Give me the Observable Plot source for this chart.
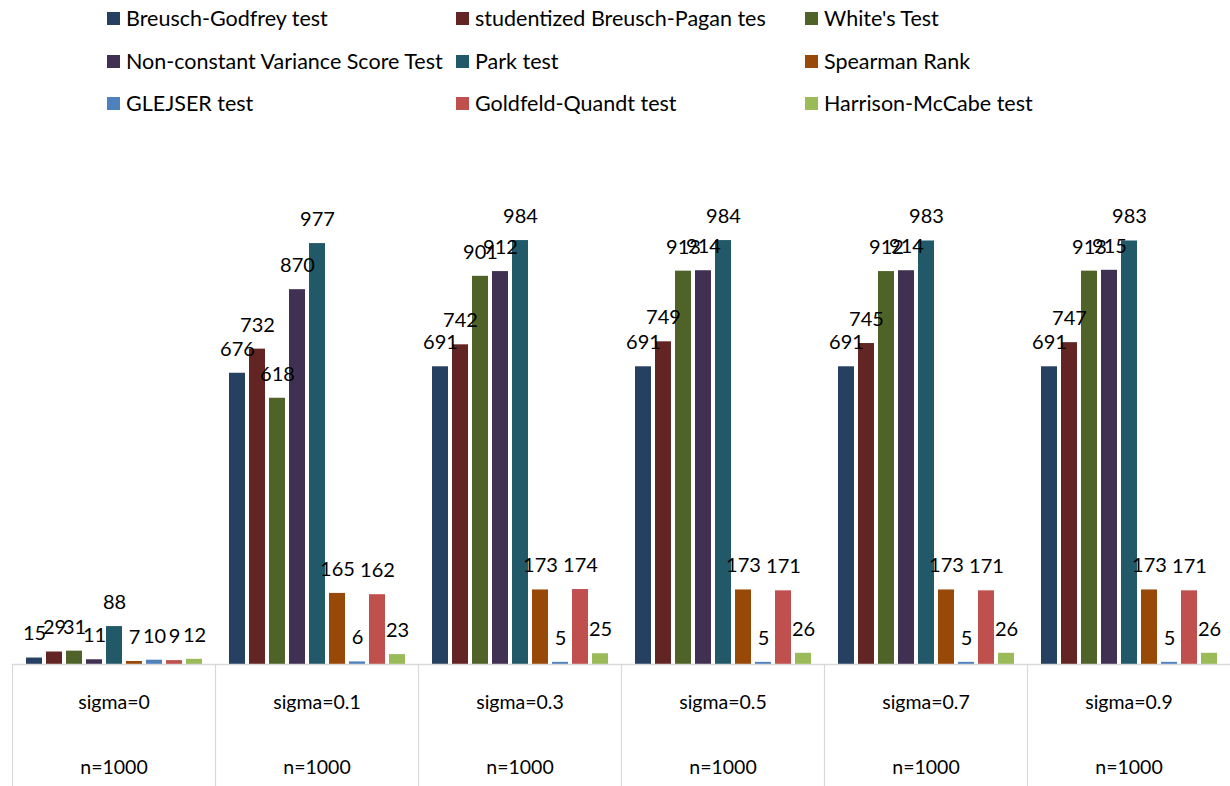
<!DOCTYPE html>
<html>
<head>
<meta charset="utf-8">
<script src="https://cdn.jsdelivr.net/npm/d3@7"></script>
<script src="https://cdn.jsdelivr.net/npm/@observablehq/plot@0.6"></script>
<style>
  html, body { margin: 0; padding: 0; background: #fff; }
  #wrap { position: relative; width: 1230px; height: 786px; font-family: Lato, "Open Sans", sans-serif; }
  #legend { position: absolute; left: 0; top: 0; width: 1230px; height: 130px; }
  .item { position: absolute; display: flex; align-items: center; font-size: 21.5px; color: #000; white-space: nowrap; }
  .sw { width: 13px; height: 13px; margin-right: 6px; }
  #chart { position: absolute; left: 0; top: 0; }
</style>
</head>
<body>
<div id="wrap">
  <div id="chart"></div>
  <div id="legend"></div>
</div>
<script>
// Heteroskedasticity tests: rejections out of n=1000 replications
const groups = ["sigma=0", "sigma=0.1", "sigma=0.3", "sigma=0.5", "sigma=0.7", "sigma=0.9"];
const sampleLabel = "n=1000";
const tests = [
  "Breusch-Godfrey test",
  "studentized Breusch-Pagan tes",
  "White's Test",
  "Non-constant Variance Score Test",
  "Park test",
  "Spearman Rank",
  "GLEJSER test",
  "Goldfeld-Quandt test",
  "Harrison-McCabe test"
];
const colors = ["#254061", "#632523", "#4f6228", "#403152", "#215968", "#984807", "#4f81bd", "#c0504d", "#9bbb59"];

// one array per test, values in group order
const breuschGodfrey  = [15, 676, 691, 691, 691, 691];
const studentizedBP   = [29, 732, 742, 749, 745, 747];
const whiteTest       = [31, 618, 901, 913, 912, 913];
const ncvScore        = [11, 870, 912, 914, 914, 915];
const parkTest        = [88, 977, 984, 984, 983, 983];
const spearmanRank    = [7, 165, 173, 173, 173, 173];
const glejser         = [10, 6, 5, 5, 5, 5];
const goldfeldQuandt  = [9, 162, 174, 171, 171, 171];
const harrisonMcCabe  = [12, 23, 25, 26, 26, 26];

const seriesValues = [breuschGodfrey, studentizedBP, whiteTest, ncvScore, parkTest,
                      spearmanRank, glejser, goldfeldQuandt, harrisonMcCabe];

const rows = [];
groups.forEach((g, gi) => {
  tests.forEach((t, ti) => rows.push({group: g, test: t, value: seriesValues[ti][gi]}));
});
const groupRows = groups.map(g => ({group: g}));

const chart = Plot.plot({
  width: 1230,
  height: 786,
  marginLeft: 11,
  marginRight: 0,
  marginTop: 147,
  marginBottom: 122,
  style: {fontFamily: "Lato, 'Open Sans', sans-serif", background: "transparent"},
  fx: {domain: groups, padding: 0, axis: null},
  x: {domain: tests, paddingInner: 0.21, paddingOuter: 0.6, axis: null},
  y: {domain: [0, 1200], axis: null},
  color: {domain: tests, range: colors},
  marks: [
    Plot.frame({anchor: "left", stroke: "#d9d9d9", strokeWidth: 1.2, insetTop: 517, insetBottom: -122}),
    Plot.barY(rows, {fx: "group", x: "test", y: "value", fill: "test"}),
    Plot.ruleY([0], {stroke: "#d9d9d9", strokeWidth: 1.5}),
    Plot.text(rows, {fx: "group", x: "test", y: "value", text: d => String(d.value),
                     dy: -24, fontSize: 20, fill: "#000"}),
    Plot.text(groupRows, {fx: "group", frameAnchor: "bottom", text: "group", dy: 44, fontSize: 19.5, fill: "#000"}),
    Plot.text(groupRows, {fx: "group", frameAnchor: "bottom", text: () => sampleLabel, dy: 109, fontSize: 19.5, fill: "#000"})
  ]
});
document.getElementById("chart").appendChild(chart);

// Legend: three columns, three rows
const legendCols = [107, 456, 805];
const legendRows = [18, 61, 103];
const legend = document.getElementById("legend");
tests.forEach((t, i) => {
  const item = document.createElement("div");
  item.className = "item";
  item.style.left = legendCols[i % 3] + "px";
  item.style.top = (legendRows[Math.floor(i / 3)] - 13) + "px";
  item.style.height = "26px";
  const sw = document.createElement("span");
  sw.className = "sw";
  sw.style.background = colors[i];
  const label = document.createElement("span");
  label.textContent = t;
  item.appendChild(sw);
  item.appendChild(label);
  legend.appendChild(item);
});
</script>
</body>
</html>
